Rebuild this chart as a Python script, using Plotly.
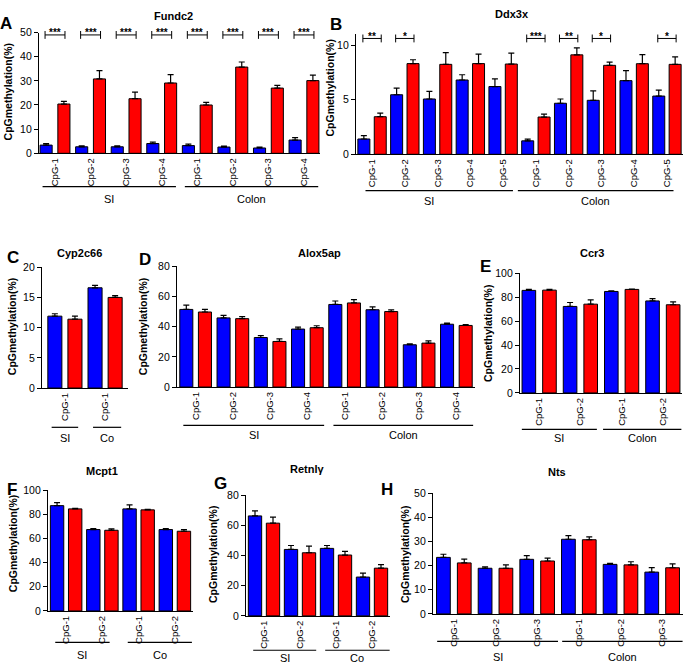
import plotly.graph_objects as go

W, H = 685, 670

# ------------------------------------------------------------------ data
sites1 = ["CpG-1"]
sites2 = ["CpG-1", "CpG-2"]
sites3 = ["CpG-1", "CpG-2", "CpG-3"]
sites4 = ["CpG-1", "CpG-2", "CpG-3", "CpG-4"]
sites5 = ["CpG-1", "CpG-2", "CpG-3", "CpG-4", "CpG-5"]

tissues_si_colon = ["SI", "Colon"]
tissues_si_co = ["SI", "Co"]

# A  Fundc2
fundc2_blue = [3.4, 2.7, 2.7, 4.05, 3.2, 2.6, 2.2, 5.5]
fundc2_blue_err = [0.6, 0.4, 0.4, 0.55, 0.6, 0.4, 0.4, 1.0]
fundc2_red = [20.4, 30.8, 22.6, 29.1, 20.0, 35.7, 27.0, 30.1]
fundc2_red_err = [1.1, 3.4, 2.7, 3.5, 1.1, 2.1, 1.1, 2.3]
fundc2_sig = ["***", "***", "***", "***", "***", "***", "***", "***"]

# B  Ddx3x
ddx3x_blue = [1.4, 5.45, 5.06, 6.8, 6.2, 1.23, 4.67, 4.94, 6.74, 5.33]
ddx3x_blue_err = [0.3, 0.6, 0.7, 0.48, 0.7, 0.15, 0.39, 0.86, 0.92, 0.54]
ddx3x_red = [3.44, 8.3, 8.23, 8.3, 8.26, 3.41, 9.1, 8.14, 8.29, 8.23]
ddx3x_red_err = [0.33, 0.35, 1.07, 0.86, 0.99, 0.27, 0.63, 0.3, 0.84, 0.69]
ddx3x_sig = ["**", "*", "", "", "", "***", "**", "*", "", "*"]

# C  Cyp2c66
cyp2c66_blue = [11.9, 16.6]
cyp2c66_blue_err = [0.4, 0.4]
cyp2c66_red = [11.4, 15.0]
cyp2c66_red_err = [0.5, 0.3]

# D  Alox5ap
alox5ap_blue = [51.4, 45.8, 32.8, 38.4, 54.7, 51.2, 28.0, 41.6]
alox5ap_blue_err = [2.8, 1.7, 1.3, 1.3, 2.3, 1.9, 0.6, 0.7]
alox5ap_red = [49.7, 45.3, 30.2, 39.3, 55.7, 50.0, 29.1, 40.8]
alox5ap_red_err = [1.7, 1.3, 1.7, 1.3, 2.2, 1.1, 1.5, 0.6]

# E  Ccr3
ccr3_blue = [85.6, 72.2, 84.7, 76.8]
ccr3_blue_err = [0.8, 3.3, 0.6, 1.9]
ccr3_red = [85.8, 74.1, 86.4, 73.6]
ccr3_red_err = [0.6, 3.6, 0.3, 2.4]

# F  Mcpt1
mcpt1_blue = [87.2, 67.4, 84.5, 67.4]
mcpt1_blue_err = [2.5, 0.8, 3.3, 0.8]
mcpt1_red = [84.5, 66.8, 83.7, 66.0]
mcpt1_red_err = [0.5, 1.1, 0.5, 1.4]

# G  Retnlγ
retnlg_blue = [66.2, 44.0, 44.7, 25.7]
retnlg_blue_err = [3.3, 2.6, 1.9, 2.6]
retnlg_red = [61.4, 41.8, 40.3, 31.6]
retnlg_red_err = [4.0, 4.4, 2.4, 2.4]

# H  Nts
nts_blue = [23.4, 18.9, 22.6, 30.9, 20.5, 17.3]
nts_blue_err = [1.3, 0.6, 1.5, 1.5, 0.4, 1.9]
nts_red = [21.1, 18.9, 21.9, 30.7, 20.3, 19.1]
nts_red_err = [1.6, 1.4, 1.2, 1.2, 1.3, 1.6]

panels = [
    dict(gene="Fundc2", letter="A", sites=sites4, tissues=tissues_si_colon,
         blue=fundc2_blue, blue_err=fundc2_blue_err, red=fundc2_red, red_err=fundc2_red_err,
         sig=fundc2_sig, ymax=50, dtick=10),
    dict(gene="Ddx3x", letter="B", sites=sites5, tissues=tissues_si_colon,
         blue=ddx3x_blue, blue_err=ddx3x_blue_err, red=ddx3x_red, red_err=ddx3x_red_err,
         sig=ddx3x_sig, ymax=11, dtick=5),
    dict(gene="Cyp2c66", letter="C", sites=sites1, tissues=tissues_si_co,
         blue=cyp2c66_blue, blue_err=cyp2c66_blue_err, red=cyp2c66_red, red_err=cyp2c66_red_err,
         sig=None, ymax=20, dtick=5),
    dict(gene="Alox5ap", letter="D", sites=sites4, tissues=tissues_si_colon,
         blue=alox5ap_blue, blue_err=alox5ap_blue_err, red=alox5ap_red, red_err=alox5ap_red_err,
         sig=None, ymax=80, dtick=20),
    dict(gene="Ccr3", letter="E", sites=sites2, tissues=tissues_si_colon,
         blue=ccr3_blue, blue_err=ccr3_blue_err, red=ccr3_red, red_err=ccr3_red_err,
         sig=None, ymax=100, dtick=20),
    dict(gene="Mcpt1", letter="F", sites=sites2, tissues=tissues_si_co,
         blue=mcpt1_blue, blue_err=mcpt1_blue_err, red=mcpt1_red, red_err=mcpt1_red_err,
         sig=None, ymax=100, dtick=20),
    dict(gene="Retnlγ", letter="G", sites=sites2, tissues=tissues_si_co,
         blue=retnlg_blue, blue_err=retnlg_blue_err, red=retnlg_red, red_err=retnlg_red_err,
         sig=None, ymax=80, dtick=20),
    dict(gene="Nts", letter="H", sites=sites3, tissues=tissues_si_colon,
         blue=nts_blue, blue_err=nts_blue_err, red=nts_red, red_err=nts_red_err,
         sig=None, ymax=50, dtick=10),
]

# ------------------------------------------------------------------ geometry (pixels)
geoms = [
    dict(xl=39, xr=320, yz=150, yt=27, rng=(-0.45, 7.45), w=0.34,
         title=(173, 10), letter=(6, 18), ytitle=(8, 88),
         glines=[(-0.35, 3.4), (3.65, 7.4)], gtext=None, gly=184, gty=197, brk=49),
    dict(xl=356, xr=683, yz=151, yt=28.6, rng=(-0.49, 9.49), w=0.366,
         title=(512, 8), letter=(336, 19), ytitle=(330, 84),
         glines=[(-0.2, 4.3), (4.45, 9.2)], gtext=[1.75, None], gly=188, gty=199, brk=10.6),
    dict(xl=42, xr=128, yz=389, yt=266, rng=(-0.57, 1.57), w=0.35,
         title=(79, 251), letter=(13, 256), ytitle=(12, 327),
         glines=[(-0.33, 0.33), (0.7, 1.4)], gtext=None, gly=429, gty=440, brk=None),
    dict(xl=177, xr=475, yz=388, yt=265, rng=(-0.5, 7.5), w=0.35,
         title=(319, 252), letter=(145, 258), ytitle=(143, 327),
         glines=[(-0.33, 3.45), (3.7, 7.45)], gtext=None, gly=427, gty=437, brk=None),
    dict(xl=520, xr=682, yz=394, yt=272, rng=(-0.465, 3.465), w=0.33,
         title=(592, 251), letter=(486, 265), ytitle=(488, 334),
         glines=[(-0.42, 1.4), (1.55, 3.45)], gtext=None, gly=431, gty=440, brk=None),
    dict(xl=48, xr=193, yz=616, yt=493, rng=(-0.5, 3.5), w=0.37,
         title=(102, 473), letter=(12, 492), ytitle=(13, 548),
         glines=[(-0.3, 1.2), (1.7, 3.47)], gtext=None, gly=648, gty=661, brk=None),
    dict(xl=246, xr=390, yz=621, yt=498, rng=(-0.5, 3.5), w=0.37,
         title=(307, 471), letter=(220, 486), ytitle=(213, 558),
         glines=[(-0.3, 1.45), (1.7, 3.49)], gtext=None, gly=656, gty=664, brk=None),
    dict(xl=433, xr=683, yz=619, yt=496, rng=(-0.5, 5.5), w=0.33,
         title=(557, 474), letter=(387, 492), ytitle=(405, 559),
         glines=[(-0.4, 2.5), (2.6, 5.49)], gtext=None, gly=647, gty=663, brk=None),
]

FONT = "Liberation Sans, Arial, Helvetica, sans-serif"
BLUE = "#0000FF"
RED = "#FF0000"


def fx(px):
    return px / W


def fy(py):
    return 1 - py / H


fig = go.Figure()
layout = dict(
    width=W, height=H, margin=dict(l=0, r=0, t=0, b=0),
    paper_bgcolor="white", plot_bgcolor="white", showlegend=False,
    barmode="overlay", font=dict(family=FONT, color="black"),
)
shapes = []
annotations = []

for k, (p, g) in enumerate(zip(panels, geoms), start=1):
    n = len(p["blue"])
    idx = list(range(n))
    xa = "x" if k == 1 else f"x{k}"
    ya = "y" if k == 1 else f"y{k}"
    w = g["w"]
    ticktext = [s for t in p["tissues"] for s in p["sites"]]

    for vals, errs, col, off in ((p["blue"], p["blue_err"], BLUE, -0.25),
                                 (p["red"], p["red_err"], RED, 0.25)):
        fig.add_trace(go.Bar(
            x=idx, y=vals, xaxis=xa, yaxis=ya,
            width=w, offset=off - w / 2,
            marker=dict(color=col, line=dict(color="black", width=1)),
            error_y=dict(type="data", array=errs, arrayminus=[0] * n, symmetric=False,
                         color="black", thickness=1.2, width=3),
            hoverinfo="skip",
        ))

    layout[f"xaxis{k}"] = dict(
        domain=[fx(g["xl"]), fx(g["xr"])], range=list(g["rng"]), anchor=ya,
        showline=True, linecolor="black", linewidth=1.3, ticks="",
        tickmode="array", tickvals=idx, ticktext=ticktext, tickangle=-90,
        tickfont=dict(size=9.5, family=FONT, color="black"),
        showgrid=False, zeroline=False, fixedrange=True,
    )
    layout[f"yaxis{k}"] = dict(
        domain=[fy(g["yz"]), fy(g["yt"])], range=[0, p["ymax"]], anchor=xa,
        showline=True, linecolor="black", linewidth=1.3,
        ticks="outside", ticklen=4, tickwidth=1.2, tickcolor="black",
        tick0=0, dtick=p["dtick"], tickfont=dict(size=10.5, family=FONT, color="black"),
        showgrid=False, zeroline=False, fixedrange=True,
    )

    # title, letter, y title
    annotations.append(dict(text=f"<b>{p['gene']}</b>", x=fx(g["title"][0]), y=fy(g["title"][1]),
                            xref="paper", yref="paper", showarrow=False,
                            xanchor="center", yanchor="middle", font=dict(size=11)))
    annotations.append(dict(text=f"<b>{p['letter']}</b>", x=fx(g["letter"][0]), y=fy(g["letter"][1]),
                            xref="paper", yref="paper", showarrow=False,
                            xanchor="center", yanchor="middle", font=dict(size=17)))
    annotations.append(dict(text="<b>CpGmethylation(%)</b>", x=fx(g["ytitle"][0]), y=fy(g["ytitle"][1]),
                            xref="paper", yref="paper", showarrow=False, textangle=-90,
                            xanchor="center", yanchor="middle", font=dict(size=10.5)))

    # tissue group lines and labels
    for j, (tname, (a, b)) in enumerate(zip(p["tissues"], g["glines"])):
        shapes.append(dict(type="line", xref=xa, yref="paper", x0=a, x1=b,
                           y0=fy(g["gly"]), y1=fy(g["gly"]),
                           line=dict(color="black", width=1.2)))
        tx = (a + b) / 2
        if g["gtext"] is not None and g["gtext"][j] is not None:
            tx = g["gtext"][j]
        annotations.append(dict(text=tname, x=tx, y=fy(g["gty"]), xref=xa, yref="paper",
                                showarrow=False, xanchor="center", yanchor="middle",
                                font=dict(size=11)))

    # significance brackets
    if p["sig"]:
        hpx = g["yz"] - g["yt"]
        lvl = g["brk"] / p["ymax"]
        dt = 4.0 / hpx
        yd = f"{ya} domain"
        for i, s in enumerate(p["sig"]):
            if not s:
                continue
            x0, x1 = i - 0.28, i + 0.28
            for seg in ((x0, lvl, x1, lvl), (x0, lvl - dt, x0, lvl + dt), (x1, lvl - dt, x1, lvl + dt)):
                shapes.append(dict(type="line", xref=xa, yref=yd,
                                   x0=seg[0], y0=seg[1], x1=seg[2], y1=seg[3],
                                   line=dict(color="black", width=1)))
            annotations.append(dict(text=f"<b>{s}</b>", x=i, xref=xa, y=lvl + 2.0 / hpx, yref=yd,
                                    showarrow=False, xanchor="center", yanchor="middle",
                                    font=dict(size=10)))

layout["shapes"] = shapes
layout["annotations"] = annotations
fig.update_layout(**layout)
fig.write_html("out.html", config={"displayModeBar": False},
               post_script="document.body.style.margin='0px';document.body.style.overflow='hidden';")
